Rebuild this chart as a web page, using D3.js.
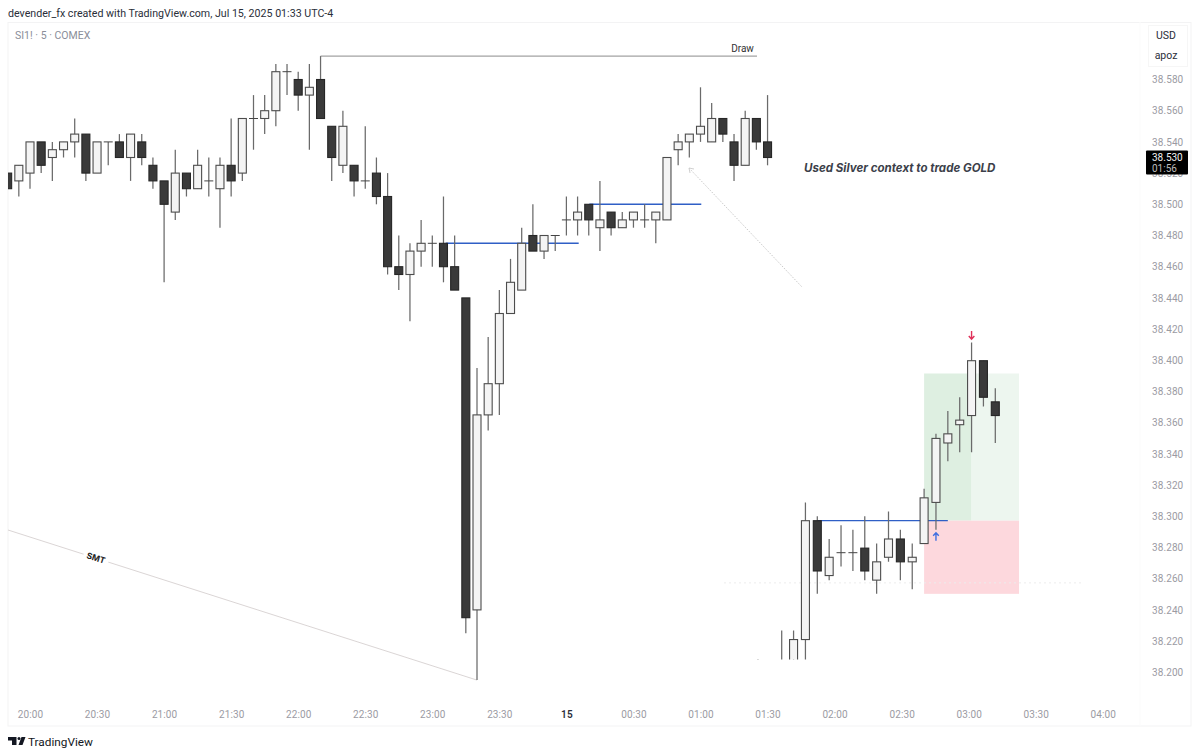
<!DOCTYPE html>
<html>
<head>
<meta charset="utf-8">
<script src="https://cdn.jsdelivr.net/npm/d3@7"></script>
<style>
  html, body { margin: 0; padding: 0; background: #fff; }
  svg { display: block; font-family: Roboto, "Noto Sans", sans-serif; }
  .axis text { fill: #9b9ba3; font-size: 10px; font-family: Roboto, sans-serif; letter-spacing: 0.1px; }
  .axis .domain, .axis line { display: none; }
</style>
</head>
<body>
<svg id="svg" width="1199" height="755"></svg>
<script>
// silver candles, first one sits two bars before 20:00
var silverStart = -2;
var silverOpen = [38.52,38.515,38.52,38.54,38.53,38.535,38.54,38.545,38.52,38.54,38.54,38.53,38.54,38.525,38.515,38.495,38.52,38.51,38.515,38.51,38.525,38.52,38.555,38.555,38.56,38.585,38.58,38.57,38.58,38.55,38.525,38.525,38.515,38.52,38.505,38.46,38.455,38.47,38.475,38.475,38.46,38.44,38.24,38.365,38.385,38.43,38.445,38.48,38.47,38.48,38.49,38.49,38.50,38.485,38.495,38.485,38.49,38.49,38.49,38.49,38.535,38.54,38.545,38.54,38.555,38.54,38.525,38.555,38.54];
var silverHigh = [38.52,38.525,38.54,38.54,38.54,38.54,38.555,38.545,38.54,38.54,38.545,38.545,38.545,38.53,38.515,38.535,38.52,38.535,38.53,38.53,38.555,38.555,38.57,38.57,38.59,38.59,38.585,38.59,38.595,38.55,38.56,38.525,38.55,38.53,38.52,38.48,38.475,38.49,38.48,38.505,38.48,38.44,38.395,38.415,38.445,38.465,38.485,38.50,38.48,38.48,38.505,38.505,38.50,38.515,38.495,38.495,38.495,38.50,38.495,38.53,38.545,38.545,38.575,38.565,38.555,38.545,38.56,38.555,38.57];
var silverLow = [38.51,38.505,38.51,38.52,38.515,38.53,38.53,38.515,38.52,38.525,38.53,38.515,38.525,38.51,38.45,38.49,38.505,38.51,38.505,38.485,38.505,38.515,38.535,38.545,38.55,38.57,38.56,38.535,38.555,38.515,38.52,38.505,38.51,38.50,38.455,38.445,38.425,38.46,38.46,38.45,38.445,38.225,38.195,38.355,38.365,38.43,38.445,38.47,38.465,38.47,38.48,38.48,38.48,38.47,38.48,38.485,38.485,38.485,38.475,38.49,38.525,38.53,38.54,38.54,38.54,38.515,38.525,38.535,38.525];
var silverClose = [38.51,38.525,38.54,38.525,38.535,38.54,38.545,38.52,38.54,38.54,38.53,38.545,38.53,38.515,38.50,38.52,38.51,38.525,38.515,38.525,38.515,38.555,38.555,38.56,38.585,38.585,38.57,38.575,38.555,38.53,38.55,38.515,38.515,38.505,38.46,38.455,38.47,38.475,38.475,38.46,38.445,38.235,38.365,38.385,38.43,38.45,38.475,38.47,38.48,38.48,38.49,38.495,38.49,38.49,38.485,38.49,38.495,38.49,38.495,38.53,38.54,38.545,38.55,38.555,38.545,38.525,38.555,38.54,38.53];

// pasted gold chart, values are ticks above/below the entry level
var goldStart = -2;
var goldOpen = [-32,-32,-32,-32,-26,0,-12,-7,-7,-6,-13,-8,-4,-9,-5,4,17,21,23,35,26];
var goldHigh = [-30.3,-31,-24,-24,4,1,-4,-1,-2,1,-5,2,-2,-5,7,19,24,27,39,35,29];
var goldLow = [-34,-34,-34,-34,-34,-16,-13,-10,-11,-13,-16,-9,-13,-15,-5,-2,13,15,15,25,17];
var goldClose = [-33,-33,-33,-26,0,-11,-8,-7,-7,-11,-9,-4,-9,-8,5,18,19,22,35,27,23];

var priceTicks = [38.58,38.56,38.54,38.52,38.50,38.48,38.46,38.44,38.42,38.40,38.38,38.36,38.34,38.32,38.30,38.28,38.26,38.24,38.22,38.20];
var timeLabels = ["20:00","20:30","21:00","21:30","22:00","22:30","23:00","23:30","15","00:30","01:00","01:30","02:00","02:30","03:00","03:30","04:00"];

var svg = d3.select("svg");

var x = d3.scaleLinear().domain([0, 96]).range([30, 1102.8]);
var y = d3.scaleLinear().domain([38.58, 38.20]).range([79.5, 672.3]);
var xGold = d3.scaleLinear().domain([0, 18]).range([781.7, 995.3]);
var yGold = d3.scaleLinear().domain([0, 35]).range([520.7, 360.7]);

function makeCandles(start, o, h, l, c) {
    return o.map(function (d, i) {
        return { i: start + i, o: d, h: h[i], l: l[i], c: c[i] };
    });
}

var defs = svg.append("defs");
defs.append("clipPath").attr("id", "plotClip").append("rect")
    .attr("x", 8).attr("y", 22).attr("width", 1132).attr("height", 704);
defs.append("clipPath").attr("id", "goldClip").append("rect")
    .attr("x", 740).attr("y", 300).attr("width", 300).attr("height", 359.6);

// header
svg.append("text").attr("x", 8).attr("y", 16.5).attr("font-size", 10.65)
    .attr("fill", "#2a2e39").text("devender_fx created with TradingView.com, Jul 15, 2025 01:33 UTC-4");

// frame
svg.append("rect").attr("x", 8).attr("y", 22.5).attr("width", 1183).attr("height", 703.5)
    .attr("fill", "none").attr("stroke", "#f3f3f4");
svg.append("line").attr("x1", 1140).attr("x2", 1140).attr("y1", 22).attr("y2", 726).attr("stroke", "#fbfbfb");

svg.append("text").attr("x", 15).attr("y", 39).attr("font-size", 10.5)
    .attr("fill", "#8a8e99").text("SI1! · 5 · COMEX");

// position box on the gold chart
var box = svg.append("g");
box.append("rect").attr("x", xGold(12)).attr("width", xGold(16) - xGold(12))
    .attr("y", yGold(32.2)).attr("height", yGold(0) - yGold(32.2)).attr("fill", "#deefe1");
box.append("rect").attr("x", xGold(16)).attr("width", xGold(20) - xGold(16))
    .attr("y", yGold(32.2)).attr("height", yGold(0) - yGold(32.2)).attr("fill", "#edf6ef");
box.append("rect").attr("x", xGold(12)).attr("width", xGold(20) - xGold(12))
    .attr("y", yGold(0)).attr("height", yGold(-16) - yGold(0)).attr("fill", "#fdd8dd");

// faint dashed level
svg.append("line").attr("x1", 724).attr("x2", 1082)
    .attr("y1", yGold(-13.6)).attr("y2", yGold(-13.6))
    .attr("stroke", "#ececec").attr("stroke-dasharray", "2,3");

// SMT line
svg.append("line").attr("x1", 8).attr("y1", 530).attr("x2", x(40)).attr("y2", y(38.195))
    .attr("stroke", "#d6d0d0").attr("stroke-width", 0.9);
svg.append("rect").attr("transform", "translate(96,558) rotate(17.6)")
    .attr("x", -13).attr("y", -5).attr("width", 26).attr("height", 10).attr("fill", "#fff");
svg.append("text").attr("transform", "translate(96,558) rotate(17.6)")
    .attr("text-anchor", "middle").attr("dy", "0.35em")
    .attr("font-family", "Inter").attr("font-size", 8.5).attr("font-weight", 700).attr("fill", "#222").text("SMT");

// Draw line
svg.append("line").attr("x1", x(26)).attr("x2", 757).attr("y1", y(38.595)).attr("y2", y(38.595))
    .attr("stroke", "#8c8c8c").attr("stroke-width", 1);
svg.append("text").attr("x", 742.5).attr("y", 52).attr("text-anchor", "middle")
    .attr("font-size", 10).attr("fill", "#333").text("Draw");

// dotted pointer
svg.append("line").attr("x1", 689).attr("y1", 168).attr("x2", 802).attr("y2", 287)
    .attr("stroke", "#c9c9c9").attr("stroke-dasharray", "1.5,1.5");
svg.append("path").attr("d", "M694,169 L689,168 L690,173")
    .attr("fill", "none").attr("stroke", "#d0d0d0");

function drawCandles(g, data, xs, ys) {
    var w = 8;
    g.selectAll(".wick").data(data).enter().append("line")
        .attr("class", "wick")
        .attr("x1", function (d) { return xs(d.i); })
        .attr("x2", function (d) { return xs(d.i); })
        .attr("y1", function (d) { return ys(d.h); })
        .attr("y2", function (d) { return ys(d.l); })
        .attr("stroke", "#6a6a6a").attr("stroke-width", 1.25);
    g.selectAll(".doji").data(data.filter(function (d) { return d.o === d.c; })).enter().append("line")
        .attr("class", "doji")
        .attr("x1", function (d) { return xs(d.i) - w / 2 - 0.5; })
        .attr("x2", function (d) { return xs(d.i) + w / 2 + 0.5; })
        .attr("y1", function (d) { return ys(d.o); })
        .attr("y2", function (d) { return ys(d.o); })
        .attr("stroke", "#444").attr("stroke-width", 1);
    g.selectAll(".body").data(data.filter(function (d) { return d.o !== d.c; })).enter().append("rect")
        .attr("class", "body")
        .attr("x", function (d) { return xs(d.i) - w / 2; })
        .attr("width", w)
        .attr("y", function (d) { return ys(Math.max(d.o, d.c)); })
        .attr("height", function (d) { return Math.abs(ys(d.o) - ys(d.c)); })
        .attr("fill", function (d) { return d.c < d.o ? "#3a3a3a" : "#f4f4f4"; })
        .attr("stroke", function (d) { return d.c < d.o ? "#262626" : "#4c4c4c"; })
        .attr("stroke-width", 1.1);
}

var silverCandles = makeCandles(silverStart, silverOpen, silverHigh, silverLow, silverClose);
var goldCandles = makeCandles(goldStart, goldOpen, goldHigh, goldLow, goldClose);

// blue levels under the silver bodies
var blue = "#2f5fc6";
svg.append("line").attr("x1", x(37.2)).attr("x2", x(49.1)).attr("y1", y(38.475)).attr("y2", y(38.475))
    .attr("stroke", blue).attr("stroke-width", 1.5);
svg.append("line").attr("x1", x(50.05)).attr("x2", x(60.07)).attr("y1", y(38.50)).attr("y2", y(38.50))
    .attr("stroke", blue).attr("stroke-width", 1.5);
svg.append("line").attr("x1", xGold(3)).attr("x2", xGold(14)).attr("y1", yGold(0)).attr("y2", yGold(0))
    .attr("stroke", blue).attr("stroke-width", 1.3);

drawCandles(svg.append("g").attr("clip-path", "url(#plotClip)"), silverCandles, x, y);
drawCandles(svg.append("g").attr("clip-path", "url(#goldClip)"), goldCandles, xGold, yGold);

// execution arrows
svg.append("path")
    .attr("transform", "translate(" + xGold(13) + "," + yGold(-3.5) + ")")
    .attr("d", "M0,4 V-4 M-2.8,-1 L0,-4 L2.8,-1")
    .attr("fill", "none").attr("stroke", "#3f6ee0").attr("stroke-width", 1.4);
svg.append("path")
    .attr("transform", "translate(" + xGold(16) + "," + yGold(40.6) + ")")
    .attr("d", "M0,-4 V4 M-2.8,1 L0,4 L2.8,1")
    .attr("fill", "none").attr("stroke", "#e0315a").attr("stroke-width", 1.4);

svg.append("text").attr("x", 804).attr("y", 172).attr("font-size", 11.55)
    .attr("font-family", "Inter").attr("font-weight", 700).attr("font-style", "italic").attr("fill", "#3c3f4a")
    .text("Used Silver context to trade GOLD");

// axes
var priceAxis = d3.axisRight(y).tickValues(priceTicks).tickSize(0).tickPadding(0)
    .tickFormat(d3.format(".3f"));
svg.append("g").attr("class", "axis").attr("transform", "translate(1152,0)").call(priceAxis);

var timeAxis = d3.axisBottom(x).tickValues(timeLabels.map(function (d, i) { return i * 6; }))
    .tickSize(0).tickPadding(0)
    .tickFormat(function (d) { return timeLabels[d / 6]; });
var timeG = svg.append("g").attr("class", "axis").attr("transform", "translate(0,711)").call(timeAxis);
timeG.selectAll("text").filter(function (d) { return timeLabels[d / 6] === "15"; })
    .style("fill", "#2a2e39").style("font-weight", 600);

// unit box
svg.append("rect").attr("x", 1148.5).attr("y", 25.5).attr("width", 39).attr("height", 41)
    .attr("fill", "#fff").attr("stroke", "#f6f6f6");
svg.append("text").attr("x", 1166).attr("y", 39).attr("text-anchor", "middle")
    .attr("font-size", 10.5).attr("fill", "#2a2e39").text("USD");
svg.append("text").attr("x", 1166).attr("y", 59).attr("text-anchor", "middle")
    .attr("font-size", 10.5).attr("fill", "#2a2e39").text("apoz");

// last price tag, it covers the 38.520 tick label
svg.append("rect").attr("x", 1146).attr("y", 150.5).attr("width", 42).attr("height", 24)
    .attr("rx", 1).attr("fill", "#000");
svg.append("text").attr("x", 1152).attr("y", 160.5).attr("font-size", 10)
    .attr("fill", "#f0f0f0").text("38.530");
svg.append("text").attr("x", 1152).attr("y", 172).attr("font-size", 10)
    .attr("fill", "#bdbdbd").text("01:56");

// footer logo
svg.append("path")
    .attr("d", "M8,737 H16.5 V745 H12 V740.5 H8 Z M18.5,745 L21.5,737 H25.5 L22.5,745 Z")
    .attr("fill", "#131722");
svg.append("circle").attr("cx", 19).attr("cy", 738.6).attr("r", 1.5).attr("fill", "#131722");
svg.append("text").attr("x", 28).attr("y", 745.5).attr("font-size", 11.8)
    .attr("fill", "#131722").text("TradingView");
</script>
</body>
</html>
